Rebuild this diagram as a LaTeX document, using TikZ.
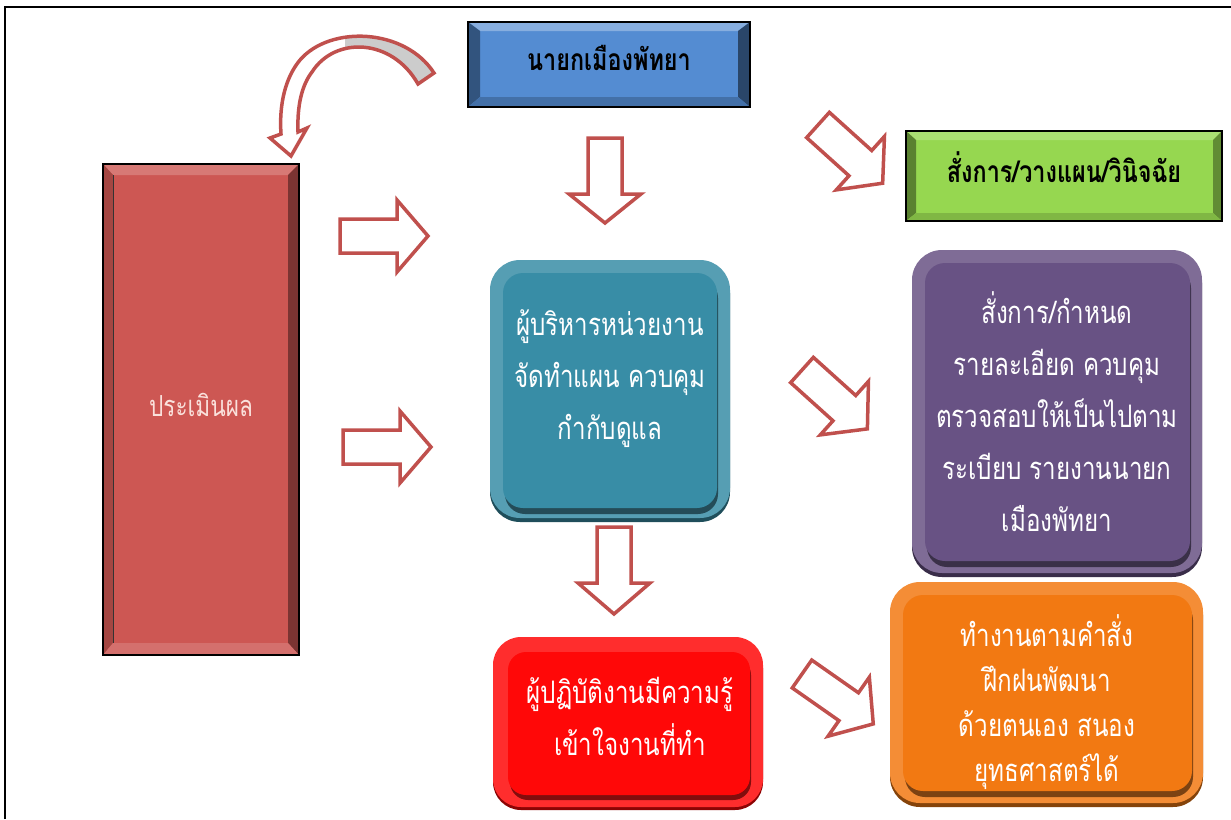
\documentclass[tikz,border=0pt]{standalone}
\usepackage{fontspec}
\newfontfamily\thaifont[Script=Thai, FakeStretch=0.78]{Loma}
\usepackage{tikz}

\definecolor{arrowred}{RGB}{192,80,77}
\definecolor{mayorblue}{RGB}{84,140,210}
\definecolor{ordergreen}{RGB}{150,215,80}
\definecolor{evalred}{RGB}{205,87,83}
\definecolor{plannerteal}{RGB}{56,141,166}
\definecolor{controlpurple}{RGB}{104,82,132}
\definecolor{workerred}{RGB}{255,8,8}
\definecolor{stafforange}{RGB}{242,121,18}

\begin{document}
\begin{tikzpicture}[x=1pt,y=1pt,yscale=-1,
    blockarrow/.style={draw=arrowred, fill=white, line width=3.5pt, line join=miter},
    boxtext/.style={font=\thaifont\fontsize{31}{52}\selectfont, text=white, align=center, inner sep=0pt},
    headtext/.style={font=\thaifont\bfseries\fontsize{30}{34}\selectfont, text=black, align=center, inner sep=0pt}]
\useasboundingbox (0,0) rectangle (1231,819);

%Frame
\draw [line width=2.2pt] (5,819) -- (5,7) -- (1231,7);

%Shape: Bevel [id:mayor]
\fill [mayorblue] (468,22) rectangle (750,107);
\fill [mayorblue!70!white] (468,22) -- (750,22) -- (738,31) -- (480,31) -- cycle;
\fill [mayorblue!60!black] (468,22) -- (480,31) -- (480,97) -- (468,107) -- cycle;
\fill [mayorblue!50!black] (750,22) -- (738,31) -- (738,97) -- (750,107) -- cycle;
\fill [mayorblue!80!black] (468,107) -- (480,97) -- (738,97) -- (750,107) -- cycle;
\draw [line width=1.5pt] (468,22) rectangle (750,107);

%Shape: Bevel [id:orders]
\fill [ordergreen] (906,131) rectangle (1222,221);
\fill [ordergreen!80!white] (906,131) -- (1222,131) -- (1213,140) -- (916,140) -- cycle;
\fill [ordergreen!60!black] (906,131) -- (916,140) -- (916,213) -- (906,221) -- cycle;
\fill [ordergreen!65!black] (1222,131) -- (1213,140) -- (1213,213) -- (1222,221) -- cycle;
\fill [ordergreen!85!black] (906,221) -- (916,213) -- (1213,213) -- (1222,221) -- cycle;
\draw [line width=1.5pt] (906,131) rectangle (1222,221);

%Shape: Bevel [id:evaluate]
\fill [evalred] (103,164) rectangle (299,655);
\fill [evalred!80!white] (103,164) -- (299,164) -- (288,175) -- (113,175) -- cycle;
\fill [evalred!80!black] (103,164) -- (113,175) -- (113,643) -- (103,655) -- cycle;
\fill [evalred!60!black] (299,164) -- (288,175) -- (288,643) -- (299,655) -- cycle;
\fill [evalred!85!white] (103,655) -- (113,643) -- (288,643) -- (299,655) -- cycle;
\draw [line width=1pt, black!80] (113,175) -- (113,643);
\draw [line width=1.5pt] (103,164) rectangle (299,655);

%Shape: Rounded Rectangle [id:planner]
\fill [plannerteal!55!black, rounded corners=30] (490,263) rectangle (730,522);
\fill [plannerteal!85!white, rounded corners=30] (490,260) rectangle (730,518);
\fill [plannerteal!35!black, opacity=0.75, rounded corners=20] (505,278) rectangle (718,514);
\fill [plannerteal, rounded corners=20] (503,273) rectangle (717,508);

%Shape: Rounded Rectangle [id:control]
\fill [controlpurple!55!black, rounded corners=30] (912,253) rectangle (1202,577);
\fill [controlpurple!85!white, rounded corners=30] (912,250) rectangle (1202,573);
\fill [controlpurple!35!black, opacity=0.75, rounded corners=20] (927,268) rectangle (1191,567);
\fill [controlpurple, rounded corners=20] (925,263) rectangle (1190,561);

%Shape: Rounded Rectangle [id:worker]
\fill [workerred!55!black, rounded corners=28] (493,640) rectangle (763,810);
\fill [workerred!85!white, rounded corners=28] (493,637) rectangle (763,807);
\fill [workerred!35!black, opacity=0.75, rounded corners=18] (510,657) rectangle (751,800);
\fill [workerred, rounded corners=18] (508,652) rectangle (750,795);

%Shape: Rounded Rectangle [id:staff]
\fill [stafforange!55!black, rounded corners=30] (890,585) rectangle (1203,807);
\fill [stafforange!85!white, rounded corners=30] (890,582) rectangle (1203,803);
\fill [stafforange!35!black, opacity=0.75, rounded corners=20] (905,600) rectangle (1193,797);
\fill [stafforange, rounded corners=20] (903,595) rectangle (1192,791);

%Shape: Block Arrows
\draw [blockarrow, shift={(605,138)}, rotate=90] (0,-17) -- (56,-17) -- (56,-36) -- (85,0) -- (56,36) -- (56,17) -- (0,17) -- cycle;
\draw [blockarrow, shift={(614,527)}, rotate=90] (0,-17) -- (56,-17) -- (56,-36) -- (87,0) -- (56,36) -- (56,17) -- (0,17) -- cycle;
\draw [blockarrow, shift={(340,236)}] (0,-17) -- (57,-17) -- (57,-36) -- (88,0) -- (57,36) -- (57,17) -- (0,17) -- cycle;
\draw [blockarrow, shift={(343,447)}] (0,-17) -- (57,-17) -- (57,-36) -- (88,0) -- (57,36) -- (57,17) -- (0,17) -- cycle;
\draw [blockarrow, shift={(818,125)}, rotate=42] (0,-17) -- (57,-17) -- (57,-36) -- (87,0) -- (57,36) -- (57,17) -- (0,17) -- cycle;
\draw [blockarrow, shift={(802,370)}, rotate=42] (0,-17) -- (57,-17) -- (57,-36) -- (88,0) -- (57,36) -- (57,17) -- (0,17) -- cycle;
\draw [blockarrow, shift={(802,674)}, rotate=35] (0,-17) -- (57,-17) -- (57,-36) -- (87,0) -- (57,36) -- (57,17) -- (0,17) -- cycle;

%Shape: Curved Arrow
\begin{scope}
\clip (434,73) .. controls (405,28) and (330,25) .. (300,60) .. controls (285,78) and (279,105) .. (281,134)
      -- (298,132) .. controls (297,105) and (302,85) .. (312,72) .. controls (335,36) and (392,38) .. (418,84) -- cycle;
\fill [white] (260,20) rectangle (440,160);
\fill [black!20] (345,20) rectangle (440,95);
\end{scope}
\fill [white] (281,134) -- (270,138) -- (291,156) -- (307,128) -- (298,132) -- cycle;
\draw [blockarrow, fill=none] (434,73) .. controls (405,28) and (330,25) .. (300,60) .. controls (285,78) and (279,105) .. (281,134)
      -- (270,138) -- (291,156) -- (307,128) -- (298,132) .. controls (297,105) and (302,85) .. (312,72) .. controls (335,36) and (392,38) .. (418,84) -- cycle;

% Text Node
\node [headtext] (mayor) at (609,58) {นายกเมืองพัทยา};
% Text Node
\node [headtext] (orders) at (1064,167) {สั่งการ/วางแผน/วินิจฉัย};
% Text Node
\node [boxtext, font=\thaifont\fontsize{29}{34}\selectfont, text={rgb,255:red,250;green,225;blue,220}] (evaluate) at (201,405) {ประเมินผล};
% Text Node
\node [boxtext] (planner) at (610,379) {ผู้บริหารหน่วยงาน\\จัดทำแผน ควบคุม\\กำกับดูแล};
% Text Node
\node [boxtext] (control) at (1057,412) {สั่งการ/กำหนด\\รายละเอียด ควบคุม\\ตรวจสอบให้เป็นไปตาม\\ระเบียบ รายงานนายก\\เมืองพัทยา};
% Text Node
\node [boxtext] (worker) at (630,716) {ผู้ปฏิบัติงานมีความรู้\\เข้าใจงานที่ทำ};
% Text Node
\begin{scope}
\clip (903,595) rectangle (1192,791);
\node [boxtext, font=\thaifont\fontsize{31}{45}\selectfont] (staff) at (1047,702) {ทำงานตามคำสั่ง\\ฝึกฝนพัฒนา\\ด้วยตนเอง สนอง\\ยุทธศาสตร์ได้};
\end{scope}

\end{tikzpicture}
\end{document}
